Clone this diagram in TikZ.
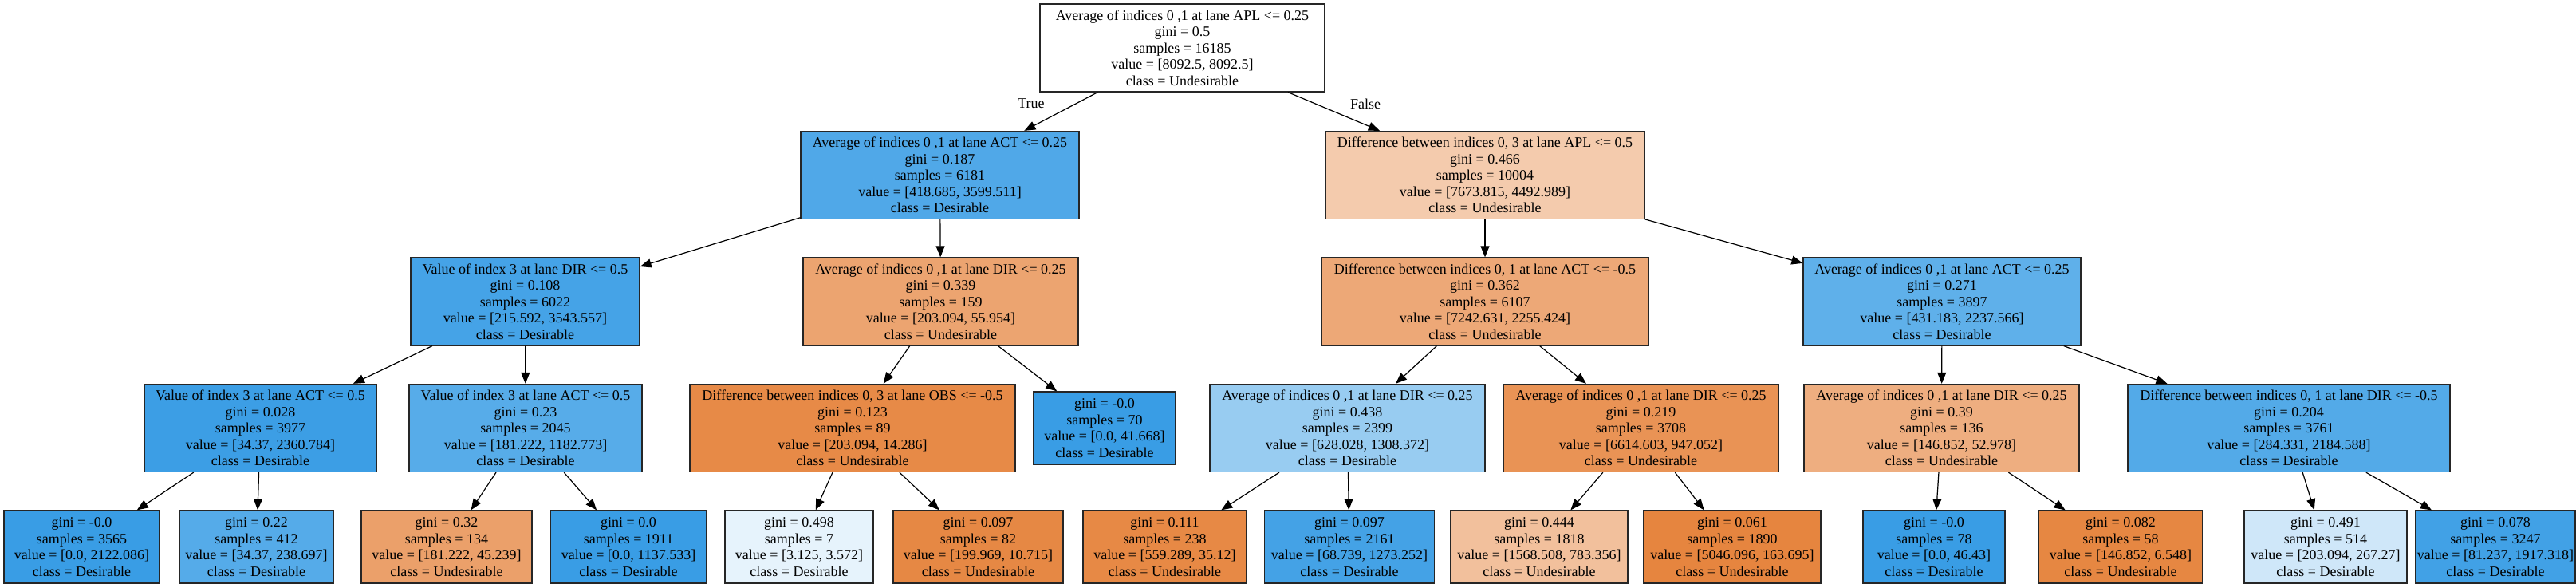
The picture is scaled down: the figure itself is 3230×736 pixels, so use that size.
\documentclass[tikz,border=0pt]{standalone}
\usepackage{fontspec}
\setmainfont{Liberation Serif}
\usetikzlibrary{arrows.meta}
\definecolor{cRoot}{RGB}{255,255,255}
\definecolor{cA}{RGB}{80,168,232}
\definecolor{cB}{RGB}{244,203,173}
\definecolor{cC}{RGB}{69,163,231}
\definecolor{cD}{RGB}{236,164,112}
\definecolor{cE}{RGB}{237,168,119}
\definecolor{cF}{RGB}{95,176,234}
\definecolor{cG}{RGB}{60,158,229}
\definecolor{cH}{RGB}{87,172,233}
\definecolor{cI}{RGB}{231,138,71}
\definecolor{cPure}{RGB}{57,157,229}
\definecolor{cJ}{RGB}{152,204,241}
\definecolor{cK}{RGB}{233,147,85}
\definecolor{cL}{RGB}{238,174,128}
\definecolor{cM}{RGB}{83,170,232}
\definecolor{lB}{RGB}{85,171,233}
\definecolor{lC}{RGB}{235,160,106}
\definecolor{lE}{RGB}{230,243,252}
\definecolor{lF}{RGB}{230,136,68}
\definecolor{lG}{RGB}{231,137,69}
\definecolor{lH}{RGB}{68,162,230}
\definecolor{lI}{RGB}{242,192,156}
\definecolor{lJ}{RGB}{230,133,63}
\definecolor{lL}{RGB}{230,135,66}
\definecolor{lM}{RGB}{207,231,249}
\definecolor{lN}{RGB}{65,161,230}
\tikzset{
  tnode/.style={draw=black!85, line width=1.3pt, rectangle, align=center, inner sep=0pt,
     minimum height=110pt, font=\fontsize{18}{20.5}\selectfont},
  leaf/.style={tnode, minimum height=91pt},
  edge/.style={draw=black, line width=1.2pt, -{Triangle[length=14pt,width=11pt]}},
  lbl/.style={font=\fontsize{18}{20.5}\selectfont, inner sep=0pt}
}
\begin{document}
\begin{tikzpicture}[x=1pt,y=-1pt]
\useasboundingbox (0,0) rectangle (3230,736);
% level 0
\node[tnode, fill=cRoot, minimum width=357pt] (r) at (1482.5,60) {Average of indices 0 ,1 at lane APL <= 0.25\\gini = 0.5\\samples = 16185\\value = [8092.5, 8092.5]\\class = Undesirable};
% level 1
\node[tnode, fill=cA, minimum width=349pt] (a) at (1178.5,219.5) {Average of indices 0 ,1 at lane ACT <= 0.25\\gini = 0.187\\samples = 6181\\value = [418.685, 3599.511]\\class = Desirable};
\node[tnode, fill=cB, minimum width=400pt] (b) at (1862,219.5) {Difference between indices 0, 3 at lane APL <= 0.5\\gini = 0.466\\samples = 10004\\value = [7673.815, 4492.989]\\class = Undesirable};
% level 2
\node[tnode, fill=cC, minimum width=287pt] (aa) at (658.5,378) {Value of index 3 at lane DIR <= 0.5\\gini = 0.108\\samples = 6022\\value = [215.592, 3543.557]\\class = Desirable};
\node[tnode, fill=cD, minimum width=345pt] (ab) at (1179.5,378) {Average of indices 0 ,1 at lane DIR <= 0.25\\gini = 0.339\\samples = 159\\value = [203.094, 55.954]\\class = Undesirable};
\node[tnode, fill=cE, minimum width=410pt] (ba) at (1862,378) {Difference between indices 0, 1 at lane ACT <= -0.5\\gini = 0.362\\samples = 6107\\value = [7242.631, 2255.424]\\class = Undesirable};
\node[tnode, fill=cF, minimum width=348pt] (bb) at (2435,378) {Average of indices 0 ,1 at lane ACT <= 0.25\\gini = 0.271\\samples = 3897\\value = [431.183, 2237.566]\\class = Desirable};
% level 3
\node[tnode, fill=cG, minimum width=291pt] (aaa) at (326.5,536.5) {Value of index 3 at lane ACT <= 0.5\\gini = 0.028\\samples = 3977\\value = [34.37, 2360.784]\\class = Desirable};
\node[tnode, fill=cH, minimum width=292pt] (aab) at (659,536.5) {Value of index 3 at lane ACT <= 0.5\\gini = 0.23\\samples = 2045\\value = [181.222, 1182.773]\\class = Desirable};
\node[tnode, fill=cI, minimum width=408pt] (aba) at (1069,536.5) {Difference between indices 0, 3 at lane OBS <= -0.5\\gini = 0.123\\samples = 89\\value = [203.094, 14.286]\\class = Undesirable};
\node[leaf, fill=cPure, minimum width=178pt] (abb) at (1385,536.5) {gini = -0.0\\samples = 70\\value = [0.0, 41.668]\\class = Desirable};
\node[tnode, fill=cJ, minimum width=345pt] (baa) at (1689.5,536.5) {Average of indices 0 ,1 at lane DIR <= 0.25\\gini = 0.438\\samples = 2399\\value = [628.028, 1308.372]\\class = Desirable};
\node[tnode, fill=cK, minimum width=345pt] (bab) at (2057.5,536.5) {Average of indices 0 ,1 at lane DIR <= 0.25\\gini = 0.219\\samples = 3708\\value = [6614.603, 947.052]\\class = Undesirable};
\node[tnode, fill=cL, minimum width=345pt] (bba) at (2434.5,536.5) {Average of indices 0 ,1 at lane DIR <= 0.25\\gini = 0.39\\samples = 136\\value = [146.852, 52.978]\\class = Undesirable};
\node[tnode, fill=cM, minimum width=404pt] (bbb) at (2870,536.5) {Difference between indices 0, 1 at lane DIR <= -0.5\\gini = 0.204\\samples = 3761\\value = [284.331, 2184.588]\\class = Desirable};
% level 4 (leaves)
\node[leaf, fill=cPure, minimum width=195pt] (l1) at (102.5,685.5) {gini = -0.0\\samples = 3565\\value = [0.0, 2122.086]\\class = Desirable};
\node[leaf, fill=lB, minimum width=193pt] (l2) at (321.5,685.5) {gini = 0.22\\samples = 412\\value = [34.37, 238.697]\\class = Desirable};
\node[leaf, fill=lC, minimum width=214pt] (l3) at (560,685.5) {gini = 0.32\\samples = 134\\value = [181.222, 45.239]\\class = Undesirable};
\node[leaf, fill=cPure, minimum width=195pt] (l4) at (788,685.5) {gini = 0.0\\samples = 1911\\value = [0.0, 1137.533]\\class = Desirable};
\node[leaf, fill=lE, minimum width=186pt] (l5) at (1002,685.5) {gini = 0.498\\samples = 7\\value = [3.125, 3.572]\\class = Desirable};
\node[leaf, fill=lF, minimum width=213pt] (l6) at (1226.5,685.5) {gini = 0.097\\samples = 82\\value = [199.969, 10.715]\\class = Undesirable};
\node[leaf, fill=lG, minimum width=205pt] (l7) at (1460.5,685.5) {gini = 0.111\\samples = 238\\value = [559.289, 35.12]\\class = Undesirable};
\node[leaf, fill=lH, minimum width=213pt] (l8) at (1692,685.5) {gini = 0.097\\samples = 2161\\value = [68.739, 1273.252]\\class = Desirable};
\node[leaf, fill=lI, minimum width=222pt] (l9) at (1930,685.5) {gini = 0.444\\samples = 1818\\value = [1568.508, 783.356]\\class = Undesirable};
\node[leaf, fill=lJ, minimum width=222pt] (l10) at (2172,685.5) {gini = 0.061\\samples = 1890\\value = [5046.096, 163.695]\\class = Undesirable};
\node[leaf, fill=cPure, minimum width=178pt] (l11) at (2425,685.5) {gini = -0.0\\samples = 78\\value = [0.0, 46.43]\\class = Desirable};
\node[leaf, fill=lL, minimum width=205pt] (l12) at (2659,685.5) {gini = 0.082\\samples = 58\\value = [146.852, 6.548]\\class = Undesirable};
\node[leaf, fill=lM, minimum width=204pt] (l13) at (2916,685.5) {gini = 0.491\\samples = 514\\value = [203.094, 267.27]\\class = Desirable};
\node[leaf, fill=lN, minimum width=200pt] (l14) at (3129,685.5) {gini = 0.078\\samples = 3247\\value = [81.237, 1917.318]\\class = Desirable};
% edges
\draw[edge] (r) -- (a);
\draw[edge] (r) -- (b);
\draw[edge] (a) -- (aa);
\draw[edge] (a) -- (ab);
\draw[edge] (b) -- (ba);
\draw[edge] (b) -- (bb);
\draw[edge] (aa) -- (aaa);
\draw[edge] (aa) -- (aab);
\draw[edge] (ab) -- (aba);
\draw[edge] (ab) -- (abb);
\draw[edge] (ba) -- (baa);
\draw[edge] (ba) -- (bab);
\draw[edge] (bb) -- (bba);
\draw[edge] (bb) -- (bbb);
\draw[edge] (aaa) -- (l1);
\draw[edge] (aaa) -- (l2);
\draw[edge] (aab) -- (l3);
\draw[edge] (aab) -- (l4);
\draw[edge] (aba) -- (l5);
\draw[edge] (aba) -- (l6);
\draw[edge] (baa) -- (l7);
\draw[edge] (baa) -- (l8);
\draw[edge] (bab) -- (l9);
\draw[edge] (bab) -- (l10);
\draw[edge] (bba) -- (l11);
\draw[edge] (bba) -- (l12);
\draw[edge] (bbb) -- (l13);
\draw[edge] (bbb) -- (l14);
% edge labels
\node[lbl] (ltrue) at (1293,130) {True};
\node[lbl] (lfalse) at (1712,130) {False};
\end{tikzpicture}
\end{document}
